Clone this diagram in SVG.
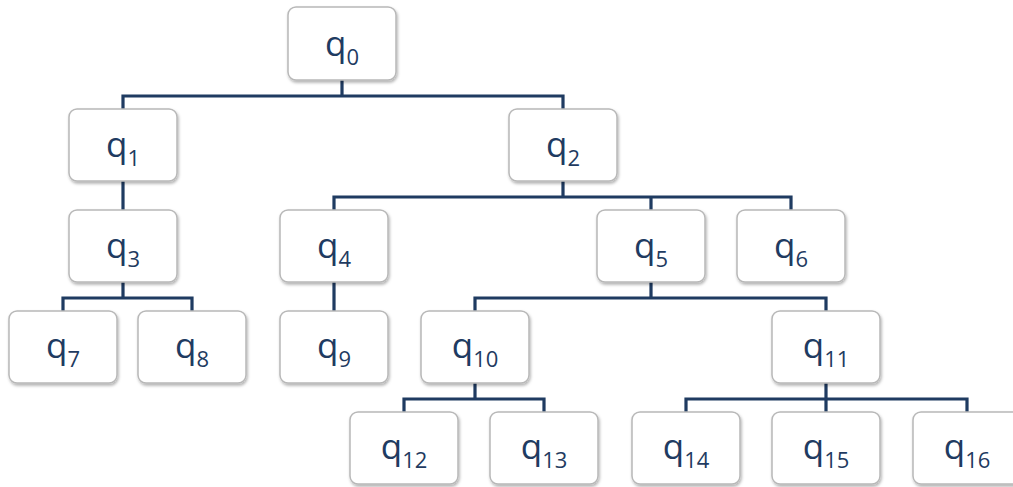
<svg xmlns="http://www.w3.org/2000/svg" width="1013" height="487" viewBox="0 0 1013 487">
  <style>
    .box { fill: #ffffff; stroke: #b8b8b8; stroke-width: 1.5; filter: url(#shadow); }
    .lbl { font-family: "Open Sans", "Liberation Sans", sans-serif; font-size: 35px; fill: #1f3b61; text-anchor: middle; }
    .sub { font-size: 22px; }
    .wire { fill: none; stroke: #1f3b61; stroke-width: 3.2; stroke-linejoin: miter; stroke-linecap: butt; }
  </style>
  <defs>
    <filter id="shadow" x="-10%" y="-10%" width="125%" height="130%">
      <feDropShadow dx="1" dy="2" stdDeviation="1.5" flood-color="#000000" flood-opacity="0.3"/>
    </filter>
  </defs>
  <rect width="1013" height="487" fill="#ffffff"/>

  <!-- connectors: elbow links from each parent to its children -->
  <g id="connectors">
    <path class="wire" d="M342 80 V96 M123 109 V96 H563 V109"/>
    <path class="wire" d="M123 181 V210"/>
    <path class="wire" d="M563 181 V197 M334 210 V197 H791 V210 M651 197 V210"/>
    <path class="wire" d="M123 282 V298 M63 311 V298 H192 V311"/>
    <path class="wire" d="M334 282 V311"/>
    <path class="wire" d="M651 282 V298 M475 311 V298 H826 V311"/>
    <path class="wire" d="M475 383 V399 M404 412 V399 H544 V412"/>
    <path class="wire" d="M826 383 V399 M686 412 V399 H967 V412 M826 399 V412"/>
  </g>

  <!-- level 0 -->
  <g id="q0"><rect class="box" x="288" y="7" width="108" height="73" rx="8"/><text class="lbl" x="342" y="56">q<tspan class="sub" dy="9">0</tspan></text></g>

  <!-- level 1 -->
  <g id="q1"><rect class="box" x="69" y="109" width="108" height="72" rx="8"/><text class="lbl" x="123" y="157">q<tspan class="sub" dy="9">1</tspan></text></g>
  <g id="q2"><rect class="box" x="509" y="109" width="108" height="72" rx="8"/><text class="lbl" x="563" y="157">q<tspan class="sub" dy="9">2</tspan></text></g>

  <!-- level 2 -->
  <g id="q3"><rect class="box" x="69" y="210" width="108" height="72" rx="8"/><text class="lbl" x="123" y="258">q<tspan class="sub" dy="9">3</tspan></text></g>
  <g id="q4"><rect class="box" x="280" y="210" width="108" height="72" rx="8"/><text class="lbl" x="334" y="258">q<tspan class="sub" dy="9">4</tspan></text></g>
  <g id="q5"><rect class="box" x="597" y="210" width="108" height="72" rx="8"/><text class="lbl" x="651" y="258">q<tspan class="sub" dy="9">5</tspan></text></g>
  <g id="q6"><rect class="box" x="737" y="210" width="108" height="72" rx="8"/><text class="lbl" x="791" y="258">q<tspan class="sub" dy="9">6</tspan></text></g>

  <!-- level 3 -->
  <g id="q7"><rect class="box" x="9" y="311" width="108" height="72" rx="8"/><text class="lbl" x="63" y="358">q<tspan class="sub" dy="9">7</tspan></text></g>
  <g id="q8"><rect class="box" x="138" y="311" width="108" height="72" rx="8"/><text class="lbl" x="192" y="358">q<tspan class="sub" dy="9">8</tspan></text></g>
  <g id="q9"><rect class="box" x="280" y="311" width="108" height="72" rx="8"/><text class="lbl" x="334" y="358">q<tspan class="sub" dy="9">9</tspan></text></g>
  <g id="q10"><rect class="box" x="421" y="311" width="108" height="72" rx="8"/><text class="lbl" x="475" y="358">q<tspan class="sub" dy="9">10</tspan></text></g>
  <g id="q11"><rect class="box" x="772" y="311" width="108" height="72" rx="8"/><text class="lbl" x="826" y="358">q<tspan class="sub" dy="9">11</tspan></text></g>

  <!-- level 4 -->
  <g id="q12"><rect class="box" x="350" y="412" width="108" height="72" rx="8"/><text class="lbl" x="404" y="459">q<tspan class="sub" dy="9">12</tspan></text></g>
  <g id="q13"><rect class="box" x="490" y="412" width="108" height="72" rx="8"/><text class="lbl" x="544" y="459">q<tspan class="sub" dy="9">13</tspan></text></g>
  <g id="q14"><rect class="box" x="632" y="412" width="108" height="72" rx="8"/><text class="lbl" x="686" y="459">q<tspan class="sub" dy="9">14</tspan></text></g>
  <g id="q15"><rect class="box" x="772" y="412" width="108" height="72" rx="8"/><text class="lbl" x="826" y="459">q<tspan class="sub" dy="9">15</tspan></text></g>
  <g id="q16"><rect class="box" x="913" y="412" width="108" height="72" rx="8"/><text class="lbl" x="967" y="459">q<tspan class="sub" dy="9">16</tspan></text></g>
</svg>
